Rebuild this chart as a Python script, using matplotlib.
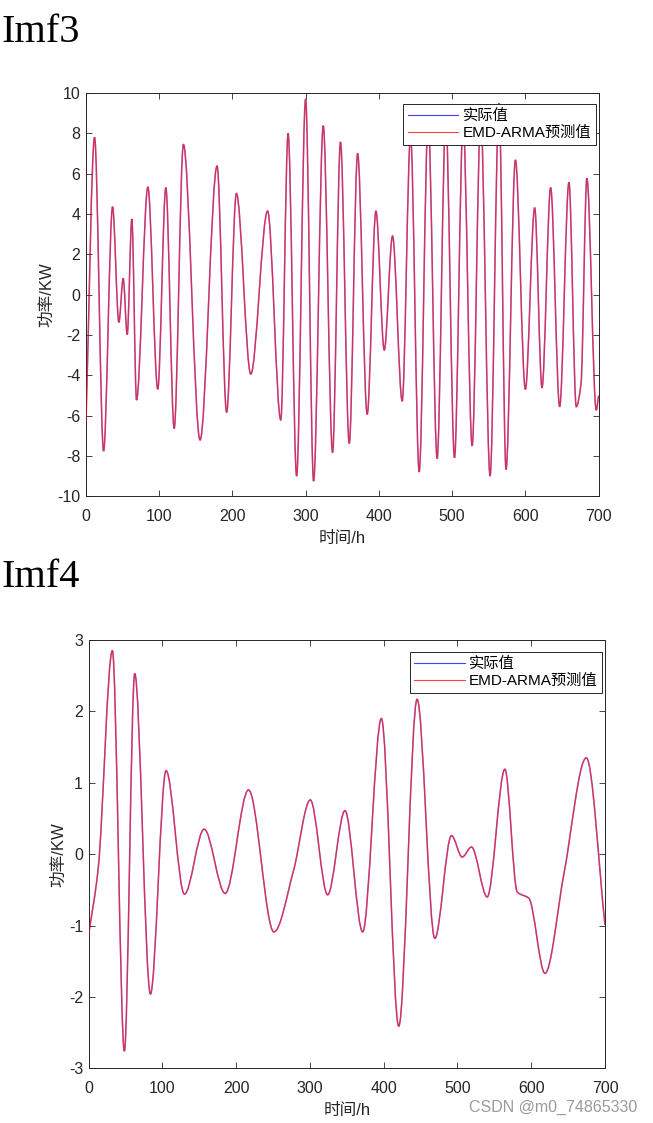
import numpy as np
import matplotlib
matplotlib.use('Agg')
import matplotlib.pyplot as plt
from matplotlib.path import Path
from matplotlib.patches import PathPatch
from matplotlib.lines import Line2D

plt.rcParams['font.family'] = ['Liberation Sans', 'Noto Sans CJK SC']
plt.rcParams['axes.unicode_minus'] = False

# Imf3 极值点 (时间/h, 功率/KW)
t3 = [0, 11.7, 24, 36.3, 44.9, 50.8, 56.3, 62.6, 69, 84.5, 98, 109, 120.4, 133, 155.8,
      179, 192, 205.4, 225, 248, 266, 276, 287.6, 299.9, 310.8, 324, 336.7, 347.5,
      359.5, 370.9, 384, 395.9, 407.3, 418.6, 431.8, 443.2, 455, 467.3, 479.5, 491.3,
      503.2, 515, 527.3, 539, 551.8, 564, 573.6, 586.4, 600, 612.7, 622.7, 634.5,
      646.8, 659.5, 669.5, 676, 684, 696.8, 700]
act3 = [-6.3, 7.8, -7.75, 4.36, -1.37, 0.81, -1.97, 3.75, -5.22, 5.34, -4.68, 5.31, -6.63,
        7.45, -7.2, 6.38, -5.83, 5.02, -3.93, 4.15, -6.21, 8.0, -8.99, 9.7, -9.24, 8.38,
        -7.82, 7.57, -7.37, 7.0, -5.93, 4.15, -2.74, 2.91, -5.27, 7.9, -8.78, 8.6, -8.12,
        8.7, -8.08, 8.5, -7.49, 8.8, -8.99, 9.49, -8.66, 6.68, -4.69, 4.31, -4.61, 5.31,
        -5.55, 5.57, -5.55, -4.4, 5.77, -5.72, -5.0]
pred3 = list(act3)

# Imf4 极值点 / 拐点
t4 = [0, 13, 32.2, 48.5, 62.5, 83.8, 105, 129.9, 156.6, 185.1, 216.8, 251.2, 278, 300.5,
      324, 347.5, 371.5, 396.9, 420.4, 445.3, 469.3, 491.9, 506.4, 519, 540.3, 564.3,
      581, 596.9, 618.6, 644.4, 674.7, 700]
act4 = [-1.13, -0.2, 2.85, -2.76, 2.53, -1.96, 1.17, -0.56, 0.35, -0.55, 0.90, -1.09,
        -0.22, 0.76, -0.57, 0.61, -1.09, 1.90, -2.41, 2.17, -1.18, 0.26, -0.04, 0.10,
        -0.60, 1.19, -0.53, -0.62, -1.67, -0.27, 1.35, -0.99]
pred4 = list(act4)


def curve(t, v):
    # 单调三次 (PCHIP) 曲线, 以 Bezier 路径交给 matplotlib 绘制
    t = np.asarray(t, float); v = np.asarray(v, float)
    h = np.diff(t); d = np.diff(v) / h
    m = np.zeros_like(v)
    m[0], m[-1] = d[0], d[-1]
    for i in range(1, len(v) - 1):
        if d[i-1] * d[i] > 0:
            w1 = 2*h[i] + h[i-1]; w2 = h[i] + 2*h[i-1]
            m[i] = (w1 + w2) / (w1/d[i-1] + w2/d[i])
    verts = [(t[0], v[0])]; codes = [Path.MOVETO]
    for i in range(len(h)):
        verts += [(t[i] + h[i]/3, v[i] + m[i]*h[i]/3),
                  (t[i+1] - h[i]/3, v[i+1] - m[i+1]*h[i]/3),
                  (t[i+1], v[i+1])]
        codes += [Path.CURVE4] * 3
    return Path(verts, codes)


GRAY = '#262626'
fig = plt.figure(figsize=(6.53, 11.23), dpi=100)
ax1 = fig.add_axes([0.1317, 0.5579, 0.785, 0.3593])
ax2 = fig.add_axes([0.1357, 0.0487, 0.7908, 0.3814])

panels = [(ax1, t3, act3, pred3, 10, 2, (0.995, 0.972)),
          (ax2, t4, act4, pred4, 3, 1, (0.995, 0.971))]
for ax, t, a, p, lim, step, anchor in panels:
    ax.add_patch(PathPatch(curve(t, a), fill=False, edgecolor='b', lw=1.0, alpha=0.5, zorder=2))
    ax.add_patch(PathPatch(curve(t, p), fill=False, edgecolor='r', lw=1.1, alpha=0.6, zorder=3))
    ax.set_xlim(0, 700); ax.set_ylim(-lim, lim)
    ax.set_xticks(np.arange(0, 701, 100))
    ax.set_yticks(np.arange(-lim, lim + 0.1, step))
    ax.tick_params(direction='in', top=True, right=True, length=4, width=0.6,
                   labelsize=11.5, colors=GRAY)
    ax.tick_params(axis='x', pad=9)
    ax.tick_params(axis='y', pad=4)
    for s in ax.spines.values():
        s.set_color(GRAY); s.set_linewidth(0.7)
    ax.set_xlabel('时间/h', fontsize=12, color=GRAY, labelpad=5)
    ax.set_ylabel('功率/KW', fontsize=12, color=GRAY, labelpad=2)
    hs = [Line2D([], [], color='#4040ff', lw=0.8), Line2D([], [], color='#ff4040', lw=0.8)]
    leg = ax.legend(hs, ['实际值', 'EMD-ARMA预测值'], loc='upper right', bbox_to_anchor=anchor,
                    borderaxespad=0, fontsize=11, frameon=True, fancybox=False, framealpha=1,
                    handlelength=3.3, handletextpad=0.3, borderpad=0.3, labelspacing=0.2)
    leg.get_frame().set_edgecolor(GRAY); leg.get_frame().set_linewidth(0.7)
    leg.set_zorder(5)

fig.text(0.003, 1 - 41.7/1123, 'Imf3', family='Liberation Serif', fontsize=29, va='baseline')
fig.text(0.003, 1 - 587/1123, 'Imf4', family='Liberation Serif', fontsize=29, va='baseline')
fig.text(0.976, 1 - 1112/1123, 'CSDN @m0_74865330', fontsize=11.5, color='#9a9a9a',
         ha='right', va='baseline')

fig.savefig('out.png', dpi=100)
